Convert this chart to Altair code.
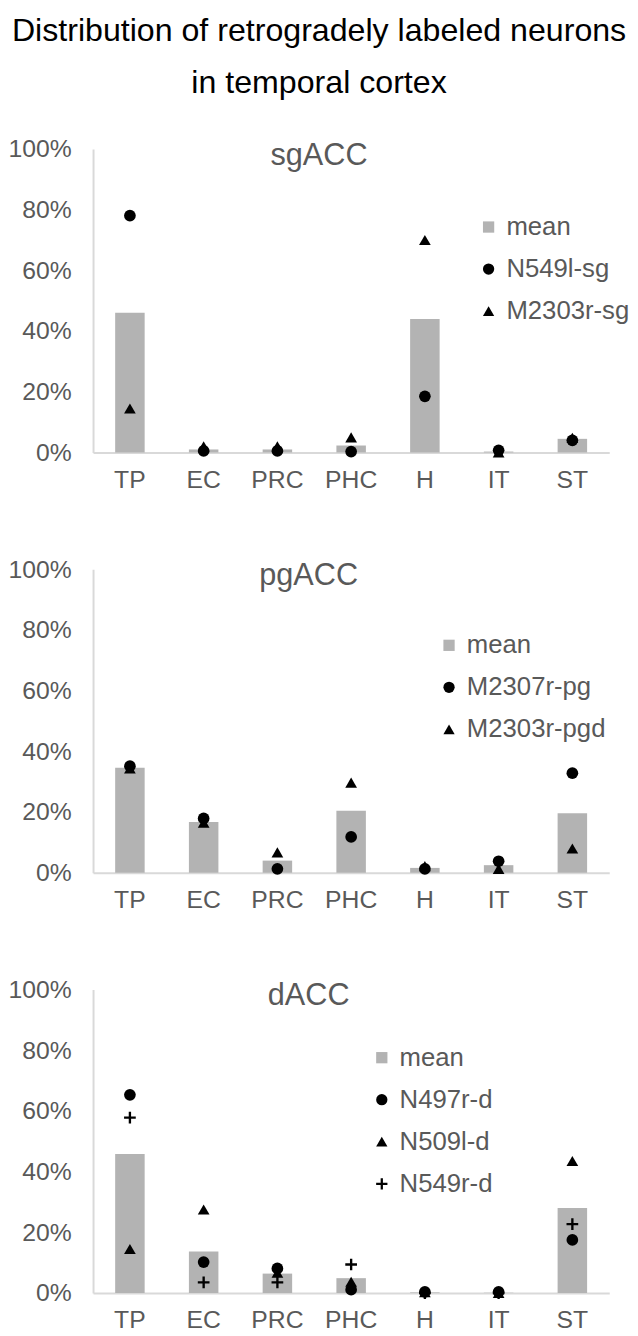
import altair as alt
import pandas as pd

categories = ["TP", "EC", "PRC", "PHC", "H", "IT", "ST"]

# sgACC panel
sg_names = ["N549l-sg", "M2303r-sg"]
sg_mean = [0.46, 0.01, 0.01, 0.023, 0.44, 0.003, 0.045]
sg_n549l = [0.78, 0.005, 0.005, 0.003, 0.185, 0.007, 0.04]
sg_m2303r = [0.145, 0.02, 0.02, 0.05, 0.70, 0.0, 0.048]

# pgACC panel
pg_names = ["M2307r-pg", "M2303r-pgd"]
pg_mean = [0.346, 0.167, 0.04, 0.204, 0.016, 0.025, 0.196]
pg_m2307r = [0.351, 0.179, 0.013, 0.118, 0.013, 0.038, 0.328]
pg_m2303r = [0.344, 0.165, 0.067, 0.297, 0.022, 0.013, 0.08]

# dACC panel
d_names = ["N497r-d", "N509l-d", "N549r-d"]
d_mean = [0.458, 0.137, 0.064, 0.049, 0.002, 0.001, 0.28]
d_n497r = [0.653, 0.102, 0.081, 0.011, 0.004, 0.004, 0.175]
d_n509l = [0.145, 0.275, 0.067, 0.037, 0.003, 0.0, 0.435]
d_n549r = [0.578, 0.035, 0.035, 0.094, 0.0, 0.0, 0.227]

y_ticks = [0, 0.2, 0.4, 0.6, 0.8, 1.0]

GREY = "#595959"
BAR = "#b3b3b3"
AXIS = "#d9d9d9"
FONT = "Liberation Sans"
PLUS = "M-1,-0.2H-0.2V-1H0.2V-0.2H1V0.2H0.2V1H-0.2V0.2H-1Z"
SHAPES = ["circle", "triangle-up", PLUS]


def panel(title, mean, names, values, lx, ly):
    bar_df = pd.DataFrame({"region": categories, "value": mean})
    rows = []
    for n, vals in zip(names, values):
        for c, v in zip(categories, vals):
            rows.append({"region": c, "value": v, "series": n})
    pt_df = pd.DataFrame(rows)
    domain = ["mean"] + names

    x = alt.X(
        "region:N",
        sort=categories,
        scale=alt.Scale(paddingInner=0.6, paddingOuter=0.3),
        axis=alt.Axis(
            title=None, labelAngle=0, labelFontSize=25, labelColor=GREY,
            labelFont=FONT, labelPadding=15, ticks=False, tickSize=0,
            domainColor=AXIS, domainWidth=2,
        ),
    )
    y = alt.Y(
        "value:Q",
        scale=alt.Scale(domain=[0, 1], nice=False),
        axis=alt.Axis(
            title=None, format="%", values=y_ticks, grid=False, ticks=False,
            tickSize=0, labelFontSize=25, labelColor=GREY, labelFont=FONT,
            labelPadding=22, domainColor=AXIS, domainWidth=2,
        ),
    )
    bars = alt.Chart(bar_df).mark_bar(color=BAR).encode(x=x, y=y)
    leg = alt.Legend(
        orient="none", legendX=lx, legendY=ly, title=None,
        labelFontSize=26, labelColor=GREY, labelFont=FONT,
        symbolSize=130, rowPadding=16.5, labelOffset=5, padding=0,
        symbolStrokeWidth=0,
    )
    pts = alt.Chart(pt_df).mark_point(filled=True, opacity=1, size=140).encode(
        x=alt.X("region:N", sort=categories),
        y=alt.Y("value:Q"),
        color=alt.Color(
            "series:N",
            scale=alt.Scale(domain=domain, range=[BAR] + ["#000000"] * len(names)),
            legend=leg,
        ),
        shape=alt.Shape(
            "series:N",
            scale=alt.Scale(domain=domain, range=["square"] + SHAPES[: len(names)]),
            legend=leg,
        ),
    )
    return alt.layer(bars, pts).properties(
        width=522,
        height=307,
        title=alt.TitleParams(
            title, fontSize=31, color=GREY, font=FONT, fontWeight="normal",
            anchor="middle", frame="bounds", offset=-35,
        ),
    )


p1 = panel("sgACC", sg_mean, sg_names, [sg_n549l, sg_m2303r], 387, 66)
p2 = panel("pgACC", pg_mean, pg_names, [pg_m2307r, pg_m2303r], 347, 64)
p3 = panel("dACC", d_mean, d_names, [d_n497r, d_n509l, d_n549r], 279, 56)

chart = (
    alt.vconcat(p1, p2, p3, spacing=66)
    .resolve_scale(color="independent", shape="independent")
    .resolve_legend(color="independent", shape="independent")
    .properties(
        title=alt.TitleParams(
            "Distribution of retrogradely labeled neurons",
            subtitle="in temporal cortex",
            fontSize=32.5, color="#000000", font=FONT, fontWeight="normal",
            subtitleFontSize=32.5, subtitleColor="#000000", subtitleFont=FONT,
            subtitleFontWeight="normal", subtitlePadding=20,
            anchor="middle", frame="bounds", offset=38,
        ),
        padding={"left": 0, "right": 0, "top": 0, "bottom": 0},
    )
    .configure_view(stroke=None)
)

chart.save("out.html", embed_options={"renderer": "svg", "actions": False})
